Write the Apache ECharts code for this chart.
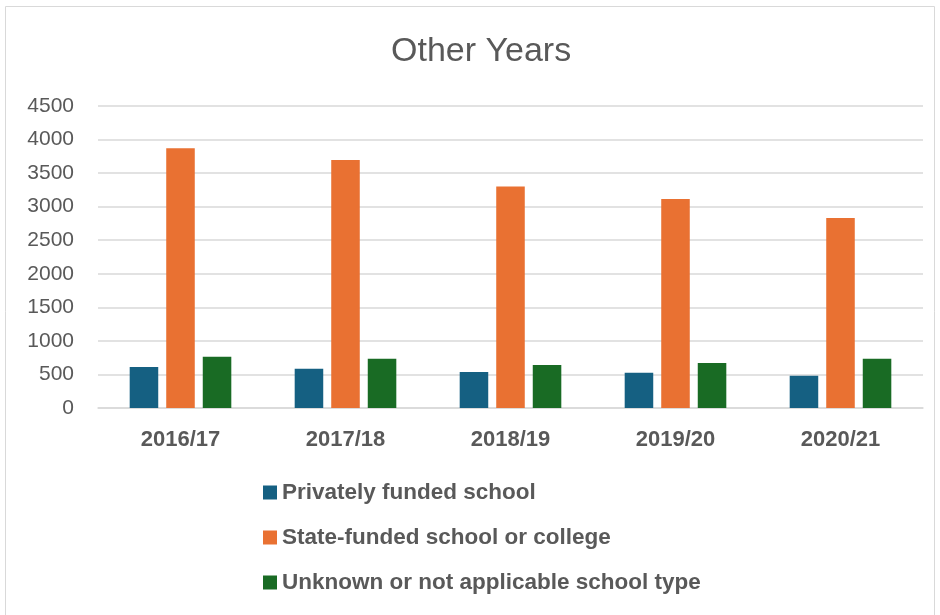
<!DOCTYPE html>
<html><head><meta charset="utf-8">
<script src="https://cdn.jsdelivr.net/npm/echarts@6/dist/echarts.min.js"></script>
<style>html,body{margin:0;padding:0;background:#fff}#c{width:940px;height:615px}</style>
</head><body><div id="c"></div>
<script>
var categories = ['2016/17','2017/18','2018/19','2019/20','2020/21'];
var seriesNames = ['Privately funded school','State-funded school or college','Unknown or not applicable school type'];
var privately = [610, 585, 536, 526, 481];
var stateFunded = [3869, 3695, 3299, 3115, 2832];
var unknown = [764, 734, 640, 670, 734];
var colors = ['#156082','#E97132','#196B24'];

var chart = echarts.init(document.getElementById('c'));
var txt = '#595959';
var ff = "'Liberation Sans', Arial, sans-serif";
function bar(name, data, color){
  return {name:name, type:'bar', data:data, barWidth:'17.3%', barGap:'28%',
    itemStyle:{color:color}, emphasis:{disabled:true}};
}
chart.setOption({
  animation:false,
  graphic:[{type:'rect', shape:{x:5.5,y:6.5,width:929,height:620}, style:{fill:'none',stroke:'#d9d9d9',lineWidth:1}}],
  title:{text:'Other Years', left:386, top:30, textStyle:{fontFamily:ff, fontWeight:'normal', fontSize:34, color:txt}},
  grid:{left:98, right:17, top:106, bottom:207},
  legend:{orient:'vertical', left:258, top:476, itemWidth:14, itemHeight:14, itemGap:22, itemTextGap:6,
    icon:'rect', data:seriesNames,
    textStyle:{fontFamily:ff, fontWeight:'bold', fontSize:22.5, color:txt, lineHeight:22}},
  xAxis:{type:'category', data:categories,
    axisLine:{show:true, lineStyle:{color:'#d9d9d9', width:1.5}}, axisTick:{show:false},
    axisLabel:{fontFamily:ff, fontWeight:'bold', fontSize:22, color:txt, margin:21}},
  yAxis:{type:'value', min:0, max:4500, interval:500,
    axisLine:{show:false}, axisTick:{show:false},
    splitLine:{lineStyle:{color:'#d9d9d9', width:1.5}},
    axisLabel:{fontFamily:ff, fontSize:21, color:txt, margin:24, formatter:function(v){return String(v);}}},
  series:[bar(seriesNames[0], privately, colors[0]), bar(seriesNames[1], stateFunded, colors[1]), bar(seriesNames[2], unknown, colors[2])]
});
</script></body></html>
